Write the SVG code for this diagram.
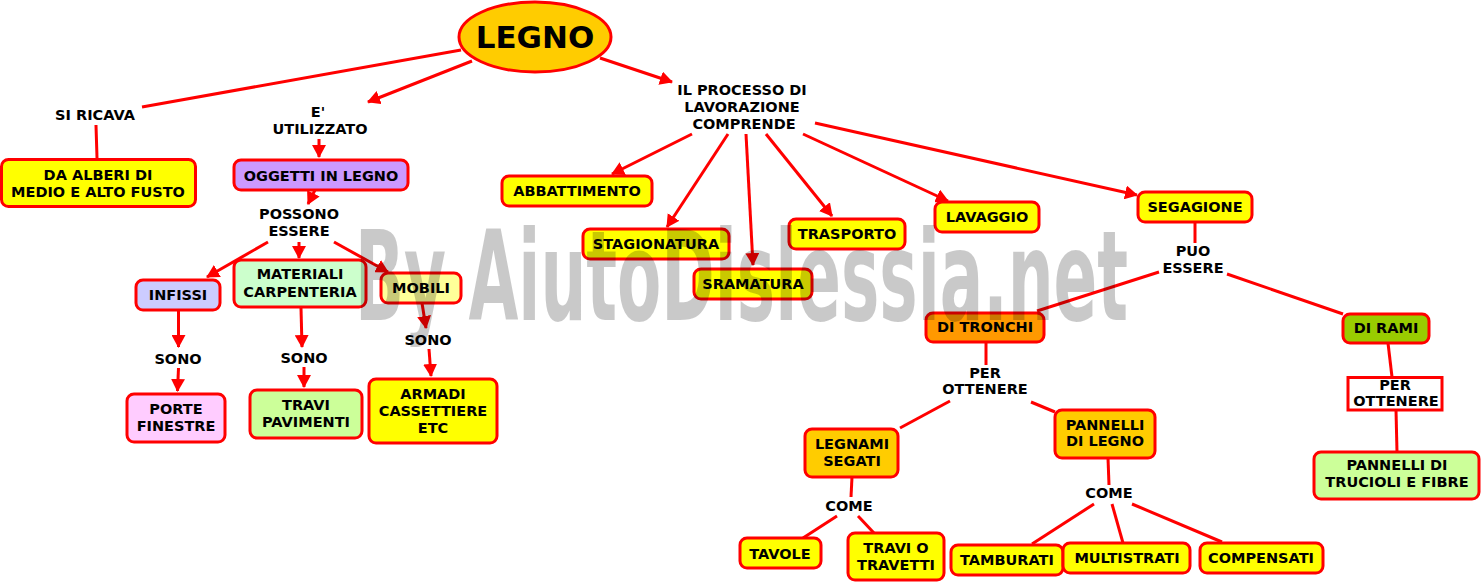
<svg xmlns="http://www.w3.org/2000/svg" width="1481" height="582" viewBox="0 0 1481 582">
<defs>
<marker id="ah" viewBox="0 0 13 14" refX="12" refY="7" markerWidth="13" markerHeight="14" markerUnits="userSpaceOnUse" orient="auto">
<path d="M0,0 L13,7 L0,14 z" fill="#FF0000"/>
</marker>
<style>
.b{stroke:#FF0000;stroke-width:3}
.t{font-family:"DejaVu Sans",Verdana,sans-serif;font-weight:bold;font-size:14.5px;fill:#000;text-anchor:middle}
.c{stroke:#FF0000;stroke-width:3;fill:none}
.a{marker-end:url(#ah)}
.y{fill:#FFFF00}
.o{fill:#FFCC00}
.wm{font-family:"Liberation Sans Narrow","DejaVu Sans Condensed",sans-serif;font-weight:bold;font-size:125px;fill:#000;fill-opacity:0.21}
</style>
</defs>
<rect width="1481" height="582" fill="#FFFFFF"/>
<g id="connectors">
<path class="c" d="M461,50 L142,107"/>
<path class="c" d="M96,125 L97,158"/>
<path class="c a" d="M472,61 L368,102"/>
<path class="c a" d="M319,139 L319,157"/>
<path class="c a" d="M315,190 L308,204"/>
<path class="c a" d="M268,242 L207,277"/>
<path class="c a" d="M299,242 L299,258"/>
<path class="c a" d="M334,242 L388,272"/>
<path class="c a" d="M178.5,310 L178.5,347"/>
<path class="c a" d="M178.5,368 L177.5,391"/>
<path class="c a" d="M301,308 L302,347"/>
<path class="c a" d="M304,367 L304,387"/>
<path class="c a" d="M422,303 L426,328"/>
<path class="c a" d="M429,349 L431,376"/>
<path class="c a" d="M600,58 L672,82"/>
<path class="c a" d="M692,134 L612,174"/>
<path class="c a" d="M728,134 L667,227"/>
<path class="c a" d="M746,134 L753,265"/>
<path class="c a" d="M766,134 L832,216"/>
<path class="c a" d="M803,134 L948,201"/>
<path class="c a" d="M815,123 L1137,195"/>
<path class="c" d="M1195,222 L1195,243"/>
<path class="c" d="M1159,272 L1037,311"/>
<path class="c" d="M1227,274 L1343,314"/>
<path class="c" d="M986,342 L986,365"/>
<path class="c" d="M950,401 L900,428"/>
<path class="c" d="M1031,402 L1055,412"/>
<path class="c" d="M852,477 L851,497"/>
<path class="c" d="M837,516 L803,538"/>
<path class="c" d="M858,516 L874,533"/>
<path class="c" d="M1108,458 L1109,485"/>
<path class="c" d="M1094,504 L1032,544"/>
<path class="c" d="M1112,504 L1123,543"/>
<path class="c" d="M1132,504 L1222,542"/>
<path class="c" d="M1388,343 L1392,377"/>
<path class="c" d="M1396,410 L1397,452"/>
</g>
<g id="n-legno"><ellipse class="b" cx="535" cy="37" rx="76" ry="35" fill="#FFCC00"/><text class="t" x="535" y="48" style="font-size:31px">LEGNO</text></g>
<g id="n-siricava"><text class="t" x="95" y="120">SI RICAVA</text></g>
<g id="n-alberi"><rect class="b y" x="1.5" y="159.5" width="194" height="47" rx="7"/><text class="t" x="98" y="180">DA ALBERI DI</text><text class="t" x="98" y="197">MEDIO E ALTO FUSTO</text></g>
<g id="n-utilizzato"><text class="t" x="318" y="117">E'</text><text class="t" x="320" y="134">UTILIZZATO</text></g>
<g id="n-oggetti"><rect class="b" x="234" y="160" width="174" height="30" rx="7" fill="#CC99FF"/><text class="t" x="321" y="181">OGGETTI IN LEGNO</text></g>
<g id="n-possono"><text class="t" x="299" y="219">POSSONO</text><text class="t" x="299" y="236">ESSERE</text></g>
<g id="n-infissi"><rect class="b" x="136" y="280" width="84" height="30" rx="7" fill="#CCCCFF"/><text class="t" x="178" y="300">INFISSI</text></g>
<g id="n-materiali"><rect class="b" x="234" y="260" width="132" height="47" rx="7" fill="#CCFFCC"/><text class="t" x="300" y="279">MATERIALI</text><text class="t" x="300" y="296.5">CARPENTERIA</text></g>
<g id="n-mobili"><rect class="b" x="381" y="273" width="80" height="30" rx="7" fill="#FFFF99"/><text class="t" x="421" y="293">MOBILI</text></g>
<g id="n-sono1"><text class="t" x="178" y="364">SONO</text></g>
<g id="n-sono2"><text class="t" x="304" y="363">SONO</text></g>
<g id="n-sono3"><text class="t" x="428" y="345">SONO</text></g>
<g id="n-porte"><rect class="b" x="127" y="394" width="98" height="48" rx="7" fill="#FFCCFF"/><text class="t" x="176" y="414">PORTE</text><text class="t" x="176" y="431">FINESTRE</text></g>
<g id="n-travi"><rect class="b" x="250" y="390" width="112" height="48" rx="7" fill="#CCFF99"/><text class="t" x="306" y="410">TRAVI</text><text class="t" x="306" y="427">PAVIMENTI</text></g>
<g id="n-armadi"><rect class="b y" x="369" y="379" width="128" height="64" rx="7"/><text class="t" x="433" y="399">ARMADI</text><text class="t" x="433" y="416">CASSETTIERE</text><text class="t" x="433" y="433">ETC</text></g>
<g id="n-processo"><text class="t" x="742" y="95">IL PROCESSO DI</text><text class="t" x="742" y="112">LAVORAZIONE</text><text class="t" x="744" y="129">COMPRENDE</text></g>
<g id="n-abbattimento"><rect class="b y" x="502" y="176" width="150" height="30" rx="7"/><text class="t" x="577" y="196">ABBATTIMENTO</text></g>
<g id="n-stagionatura"><rect class="b y" x="583" y="229" width="146" height="30" rx="7"/><text class="t" x="656" y="249">STAGIONATURA</text></g>
<g id="n-sramatura"><rect class="b y" x="694" y="269" width="118" height="30" rx="7"/><text class="t" x="753" y="289">SRAMATURA</text></g>
<g id="n-trasporto"><rect class="b y" x="789" y="219" width="116" height="30" rx="7"/><text class="t" x="847" y="239">TRASPORTO</text></g>
<g id="n-lavaggio"><rect class="b y" x="935" y="202" width="104" height="30" rx="7"/><text class="t" x="987" y="222">LAVAGGIO</text></g>
<g id="n-segagione"><rect class="b y" x="1138" y="192" width="114" height="30" rx="7"/><text class="t" x="1195" y="212">SEGAGIONE</text></g>
<g id="n-puo"><text class="t" x="1193" y="256">PUO</text><text class="t" x="1193" y="273">ESSERE</text></g>
<g id="n-tronchi"><rect class="b" x="926" y="313" width="118" height="29" rx="7" fill="#FF9900"/><text class="t" x="985" y="332">DI TRONCHI</text></g>
<g id="n-rami"><rect class="b" x="1343" y="314" width="86" height="29" rx="7" fill="#99CC00"/><text class="t" x="1386" y="333">DI RAMI</text></g>
<g id="n-per1"><text class="t" x="985" y="377.5">PER</text><text class="t" x="985" y="394">OTTENERE</text></g>
<g id="n-per2"><rect class="b" x="1348" y="377.5" width="94" height="32.5" fill="#FFFFFF"/><text class="t" x="1395" y="390">PER</text><text class="t" x="1396" y="406">OTTENERE</text></g>
<g id="n-legnami"><rect class="b o" x="805" y="429" width="93" height="48" rx="7"/><text class="t" x="852" y="449">LEGNAMI</text><text class="t" x="852" y="466">SEGATI</text></g>
<g id="n-pannelli"><rect class="b o" x="1055" y="410" width="100" height="48" rx="7"/><text class="t" x="1105" y="429.5">PANNELLI</text><text class="t" x="1105" y="446">DI LEGNO</text></g>
<g id="n-come1"><text class="t" x="849" y="511">COME</text></g>
<g id="n-come2"><text class="t" x="1109" y="498">COME</text></g>
<g id="n-tavole"><rect class="b y" x="740" y="538" width="81" height="30" rx="7"/><text class="t" x="780" y="559">TAVOLE</text></g>
<g id="n-travetti"><rect class="b y" x="848" y="533" width="96" height="47" rx="7"/><text class="t" x="896" y="553">TRAVI O</text><text class="t" x="896" y="569.5">TRAVETTI</text></g>
<g id="n-tamburati"><rect class="b y" x="951" y="545" width="112" height="30" rx="7"/><text class="t" x="1007" y="565">TAMBURATI</text></g>
<g id="n-multistrati"><rect class="b y" x="1063" y="543" width="127" height="30" rx="7"/><text class="t" x="1127" y="563">MULTISTRATI</text></g>
<g id="n-compensati"><rect class="b y" x="1200" y="543" width="123" height="30" rx="7"/><text class="t" x="1261" y="563">COMPENSATI</text></g>
<g id="n-trucioli"><rect class="b" x="1314" y="452" width="165" height="47" rx="7" fill="#CCFF99"/><text class="t" x="1397" y="470">PANNELLI DI</text><text class="t" x="1397" y="487">TRUCIOLI E FIBRE</text></g>
<g id="watermark"><text class="wm" x="355" y="320" textLength="773" lengthAdjust="spacingAndGlyphs">By AiutoDislessia.net</text></g>
</svg>
